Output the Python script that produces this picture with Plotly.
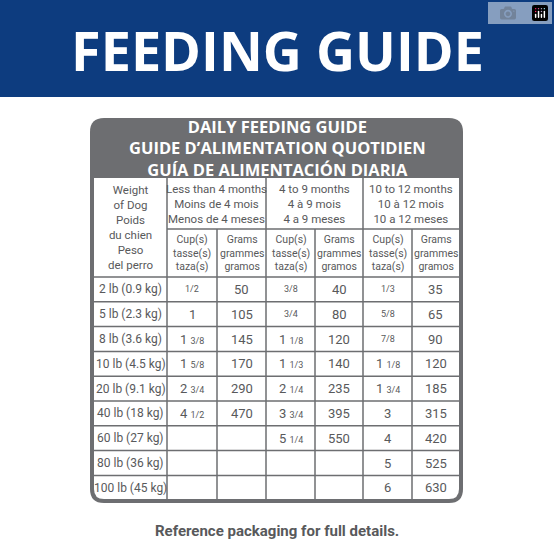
import plotly.graph_objects as go

#### Data ####
weights = ["2 lb (0.9 kg)", "5 lb (2.3 kg)", "8 lb (3.6 kg)", "10 lb (4.5 kg)", "20 lb (9.1 kg)",
           "40 lb (18 kg)", "60 lb (27 kg)", "80 lb (36 kg)", "100 lb (45 kg)"]
age_groups = ["Less than 4 months<br>Moins de 4 mois<br>Menos de 4 meses",
              "4 to 9 months<br>4 à 9 mois<br>4 a 9 meses",
              "10 to 12 months<br>10 à 12 mois<br>10 a 12 meses"]
cups_lt4 = ["1/2", "1", "1 3/8", "1 5/8", "2 3/4", "4 1/2", "", "", ""]
grams_lt4 = ["50", "105", "145", "170", "290", "470", "", "", ""]
cups_4to9 = ["3/8", "3/4", "1 1/8", "1 1/3", "2 1/4", "3 3/4", "5 1/4", "", ""]
grams_4to9 = ["40", "80", "120", "140", "235", "395", "550", "", ""]
cups_10to12 = ["1/3", "5/8", "7/8", "1 1/8", "1 3/4", "3", "4", "5", "6"]
grams_10to12 = ["35", "65", "90", "120", "185", "315", "420", "525", "630"]

GREY = "#6d6e71"
TXT = "#58595b"
FONT = "Liberation Sans Narrow, Roboto, Liberation Sans"


def frac(s):
    # show fractions as small numerals like on the packaging
    out = []
    for p in s.split(" "):
        if "/" in p:
            out.append("<span style='font-size:9px'>%s</span>" % p)
        else:
            out.append(p)
    return " ".join(out)


def rounded(x0, y0, x1, y1, rt, rb):
    return (f"M{x0+rt},{y0} L{x1-rt},{y0} Q{x1},{y0} {x1},{y0+rt} L{x1},{y1-rb} "
            f"Q{x1},{y1} {x1-rb},{y1} L{x0+rb},{y1} Q{x0},{y1} {x0},{y1-rb} "
            f"L{x0},{y0+rt} Q{x0},{y0} {x0+rt},{y0} Z")


fig = go.Figure()
shapes = []
ann = []

# banner
shapes.append(dict(type="rect", x0=0, x1=554, y0=0, y1=97, fillcolor="#0d3c7f", line_width=0, layer="below"))
ann.append(dict(x=277, y=50, text="<b>FEEDING GUIDE</b>", font=dict(family="Open Sans, Liberation Sans", size=54, color="white")))

# table frame
shapes.append(dict(type="path", path=rounded(90, 118, 463, 503, 14, 14), fillcolor=GREY, line_width=0))
shapes.append(dict(type="path", path=rounded(94, 178, 459, 499, 0, 10), fillcolor="white", line_width=0))
ann.append(dict(x=277, y=148, text="<b>DAILY FEEDING GUIDE<br>GUIDE D’ALIMENTATION QUOTIDIEN<br>GUÍA DE ALIMENTACIÓN DIARIA</b>",
                font=dict(family="Open Sans, Liberation Sans", size=16.5, color="white")))

col_x = [94, 167, 217, 266, 315, 363, 412, 459]
row_y = [277 + 24.8 * i for i in range(10)]
line = dict(color=GREY, width=1.5)
for x in [167, 266, 363]:
    shapes.append(dict(type="line", x0=x, x1=x, y0=178, y1=499, line=line))
for x in [217, 315, 412]:
    shapes.append(dict(type="line", x0=x, x1=x, y0=229, y1=499, line=line))
shapes.append(dict(type="line", x0=167, x1=459, y0=229, y1=229, line=line))
for y in row_y[:-1]:
    shapes.append(dict(type="line", x0=94, x1=459, y0=y, y1=y, line=line))

f = dict(family=FONT, size=11.5, color=TXT)
fs = dict(family=FONT, size=10.5, color=TXT)
ann.append(dict(x=130, y=227, text="Weight<br>of Dog<br>Poids<br>du chien<br>Peso<br>del perro", font=f))
for i, g in enumerate(age_groups):
    ann.append(dict(x=(col_x[1 + 2 * i] + col_x[3 + 2 * i]) / 2, y=204, text=g, font=f))
    ann.append(dict(x=(col_x[1 + 2 * i] + col_x[2 + 2 * i]) / 2, y=253, text="Cup(s)<br>tasse(s)<br>taza(s)", font=fs))
    ann.append(dict(x=(col_x[2 + 2 * i] + col_x[3 + 2 * i]) / 2, y=253, text="Grams<br>grammes<br>gramos", font=fs))

cols = [weights, cups_lt4, grams_lt4, cups_4to9, grams_4to9, cups_10to12, grams_10to12]
fd = dict(family=FONT, size=13, color=TXT)
fw = dict(family=FONT, size=12, color=TXT)
for c, vals in enumerate(cols):
    cx = (col_x[c] + col_x[c + 1]) / 2
    for r, v in enumerate(vals):
        if v:
            ann.append(dict(x=cx, y=(row_y[r] + row_y[r + 1]) / 2, text=frac(v) if c else v, font=fd if c else fw))

ann.append(dict(x=277, y=531, text="<b>Reference packaging for full details.</b>",
                font=dict(family="Roboto, Liberation Sans", size=15, color=TXT)))

for a in ann:
    a.update(xref="x", yref="y", showarrow=False)

fig.update_layout(width=554, height=554, autosize=False, margin=dict(l=0, r=0, t=0, b=0),
                  paper_bgcolor="white", plot_bgcolor="white", shapes=shapes, annotations=ann,
                  xaxis=dict(range=[0, 554], visible=False, fixedrange=True),
                  yaxis=dict(range=[554, 0], visible=False, fixedrange=True),
                  showlegend=False)
fig.write_html("out.html", post_script="document.body.style.margin='0';document.body.style.overflow='hidden';")
